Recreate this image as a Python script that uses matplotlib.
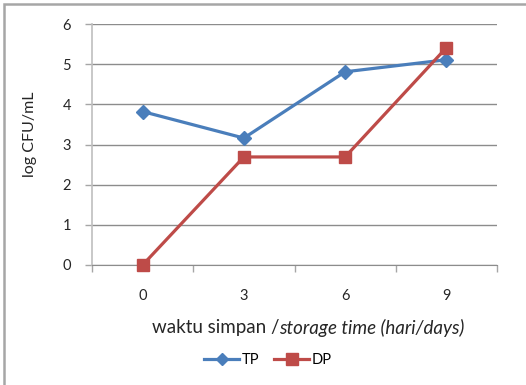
import matplotlib
matplotlib.use("Agg")
import matplotlib.pyplot as plt
from matplotlib.lines import Line2D
from matplotlib.patches import Rectangle

days = ["0", "3", "6", "9"]
tp = [3.82, 3.16, 4.81, 5.11]
dp = [0.0, 2.69, 2.69, 5.41]
yticks = [0, 1, 2, 3, 4, 5, 6]

W, H = 526, 385
plt.rcParams["font.family"] = ["Lato", "DejaVu Sans"]
fig = plt.figure(figsize=(W / 100, H / 100), dpi=100)

# outer chart frame (left and top edges visible)
fig.add_artist(Rectangle((4 / W, -0.1), 1.2, (H - 4) / H + 0.1,
                         transform=fig.transFigure, fill=False,
                         edgecolor="#A6A6A6", linewidth=1.8))

ax = fig.add_axes([92 / W, 1 - 265 / H, (497 - 92) / W, (265 - 24) / H])
x = list(range(len(days)))

blue = "#4A7EBB"
red = "#BE4B48"
ax.plot(x, tp, color=blue, linewidth=2.3, marker="D", markersize=7,
        markerfacecolor=blue, markeredgecolor=blue, zorder=3, clip_on=False)
ax.plot(x, dp, color=red, linewidth=2.3, marker="s", markersize=9,
        markerfacecolor=red, markeredgecolor=red, zorder=4, clip_on=False)

ax.set_xlim(-0.5, len(days) - 0.5)
ax.set_ylim(0, 6)
ax.set_yticks(yticks)
ax.set_yticklabels([str(v) for v in yticks], fontsize=10.5, color="#262626")
ax.set_xticks(x)
ax.set_xticklabels(days, fontsize=10.5, color="#262626")
ax.set_xticks([i - 0.5 for i in range(len(days) + 1)], minor=True)
ax.tick_params(axis="x", which="major", length=0, pad=17)
ax.tick_params(axis="x", which="minor", length=5, color="#A6A6A6", width=1)
ax.tick_params(axis="y", length=5, color="#A6A6A6", width=1, pad=10)

ax.grid(axis="y", color="#8C8C8C", linewidth=1)
ax.set_axisbelow(True)
for s in ["top", "right"]:
    ax.spines[s].set_visible(False)
ax.spines["left"].set_color("#BFBFBF")
ax.spines["bottom"].set_color("#8C8C8C")
ax.spines["left"].set_linewidth(1.2)

fig.text(30 / W, 1 - 134 / H, "log CFU/mL", fontsize=11.5, color="#262626",
         rotation=90, ha="center", va="center")

xl_y = 1 - 328 / H
t1 = fig.text(152 / W, xl_y, "waktu simpan /", fontsize=13.5,
              color="#262626", va="center", ha="left")
fig.canvas.draw()
bb = t1.get_window_extent()
fig.text(bb.x1 / W, xl_y, "storage time (hari/days)", fontsize=13.5,
         color="#262626", va="center", ha="left", style="italic")

handles = [
    Line2D([], [], color=blue, linewidth=2.3, marker="D", markersize=6),
    Line2D([], [], color=red, linewidth=2.3, marker="s", markersize=8),
]
fig.legend(handles, ["TP", "DP"], loc="center", bbox_to_anchor=(268 / W, 1 - 360 / H),
           ncol=2, frameon=False, fontsize=10.5, handlelength=2.4,
           handletextpad=0.2, columnspacing=1.0)

fig.savefig("out.png", dpi=100)
